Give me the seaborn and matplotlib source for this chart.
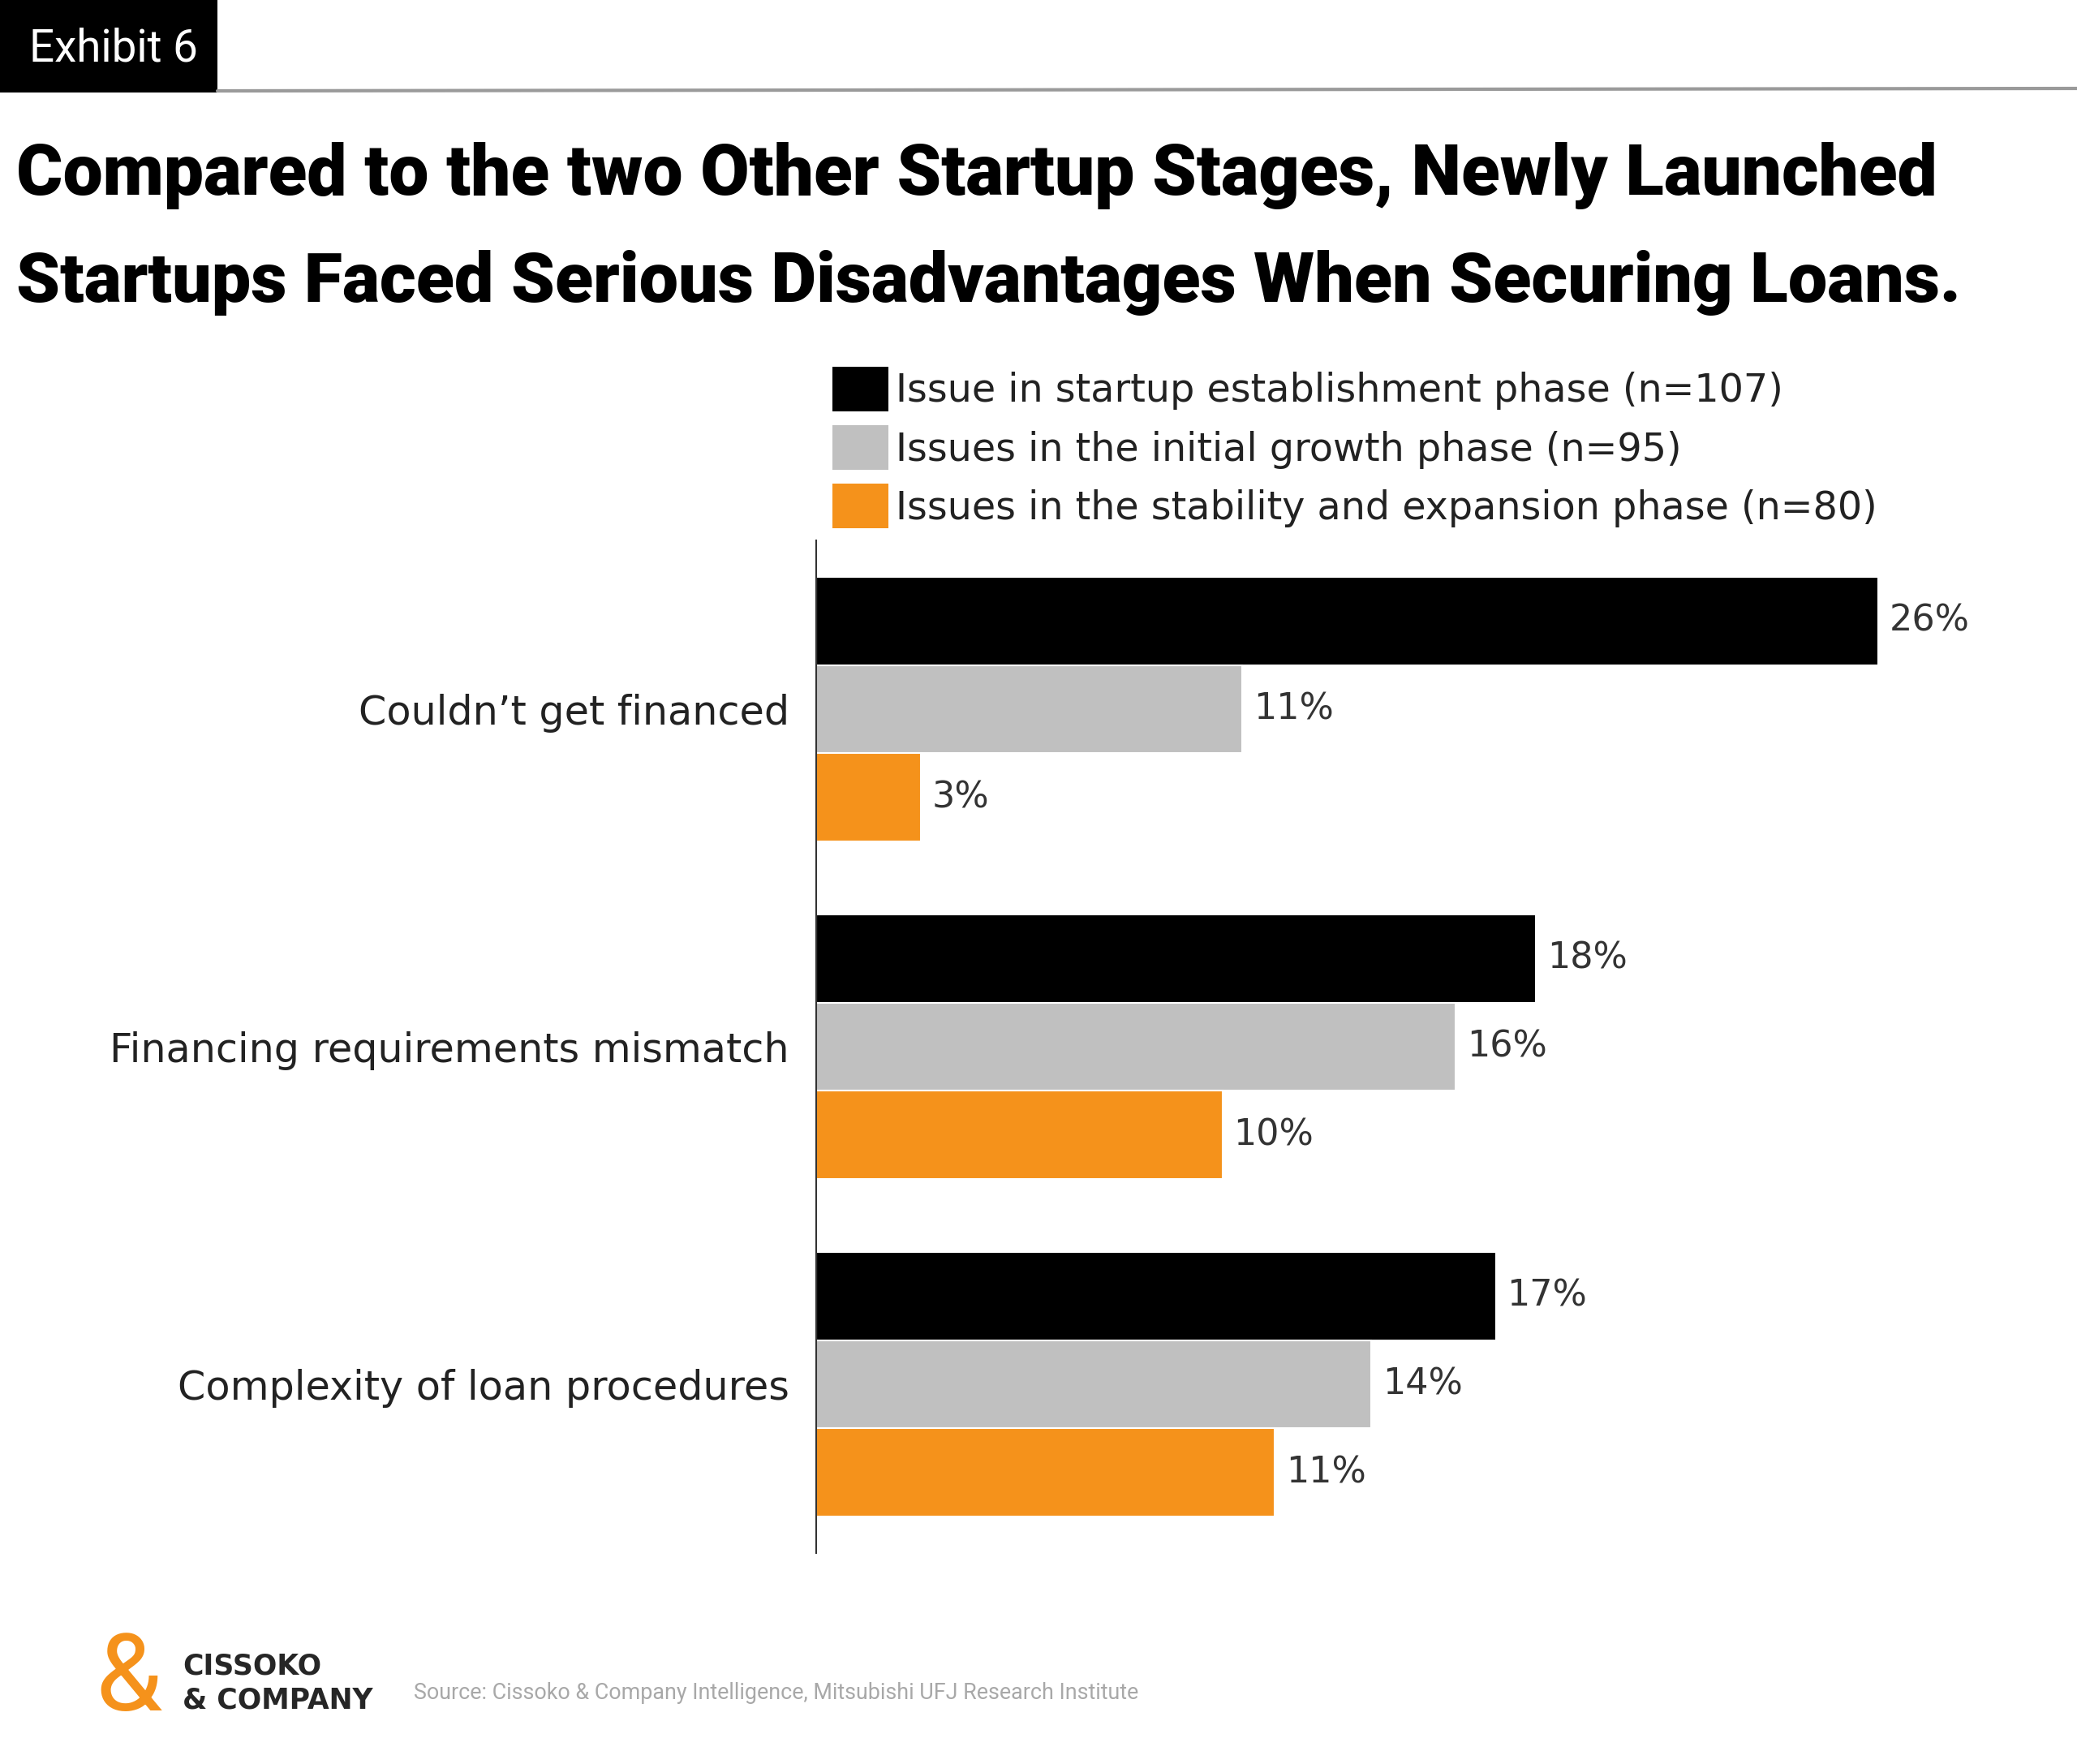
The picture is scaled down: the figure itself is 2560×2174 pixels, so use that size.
import pandas as pd
import numpy as np
import matplotlib
matplotlib.use('Agg')
import matplotlib.pyplot as plt
from matplotlib.patches import Patch, Rectangle
from matplotlib.lines import Line2D
import seaborn as sns

# ---------- Dados ----------
categorias = ['Couldn\u2019t get financed',
              'Financing requirements mismatch',
              'Complexity of loan procedures']
fases = ['Issue in startup establishment phase (n=107)',
         'Issues in the initial growth phase (n=95)',
         'Issues in the stability and expansion phase (n=80)']
val_estabelecimento = [26.4, 17.9, 16.9]
val_crescimento     = [10.6, 15.9, 13.8]
val_estabilidade    = [2.6, 10.1, 11.4]
cores = ['#000000', '#C0C0C0', '#F5921B']

titulo_l1 = 'Compared to the two Other Startup Stages, Newly Launched'
titulo_l2 = 'Startups Faced Serious Disadvantages When Securing Loans.'
fonte_txt = 'Source: Cissoko & Company Intelligence, Mitsubishi UFJ Research Institute'

df = pd.DataFrame({
    'Categoria': categorias * 3,
    'Fase': [fases[0]] * 3 + [fases[1]] * 3 + [fases[2]] * 3,
    'Valor': val_estabelecimento + val_crescimento + val_estabilidade,
})

# ---------- Figura ----------
sns.set_style('white')
plt.rcParams['font.family'] = ['DejaVu Sans']
W, H = 2560, 2174
fig = plt.figure(figsize=(W / 100, H / 100), dpi=100)
renderer = fig.canvas.get_renderer()


def fx(px):
    return px / W


def fy(py):
    return 1 - py / H


def ajustar_largura(t, alvo_px):
    w = t.get_window_extent(renderer=renderer).width
    t.set_fontsize(t.get_fontsize() * alvo_px / w)


# Cabeçalho "Exhibit 6"
fig.patches.append(Rectangle((0, fy(114)), fx(268), 114 / H, transform=fig.transFigure,
                             facecolor='black', edgecolor='none', zorder=1))
fig.lines.append(Line2D([fx(268), 1], [fy(112), fy(109)], transform=fig.transFigure,
                        color='#9a9a9a', linewidth=3))
t = fig.text(fx(36), fy(60), 'Exhibit 6', color='white', fontsize=40, va='center', ha='left',
             family=['Roboto', 'DejaVu Sans'], zorder=2)
ajustar_largura(t, 208)

# Título
for txt, yb, larg in [(titulo_l1, 240, 2373), (titulo_l2, 372, 2400)]:
    t = fig.text(fx(20), fy(yb), txt, fontsize=60, fontweight='black', va='baseline', ha='left',
                 family=['Roboto', 'DejaVu Sans'], color='black')
    ajustar_largura(t, larg)

# ---------- Barras ----------
ax = fig.add_axes([fx(1006), fy(1914), fx(1487), (1914 - 666) / H])
sns.barplot(data=df, y='Categoria', x='Valor', hue='Fase', orient='h', palette=cores,
            width=0.786, saturation=1, edgecolor='white', linewidth=1.5, ax=ax, legend=False)
ax.set_xlim(0, 30)
ax.set_ylim(2.5, -0.5)
for cont in ax.containers:
    ax.bar_label(cont, labels=[f'{v:.0f}%' for v in cont.datavalues], padding=10,
                 fontsize=32, color='#333333')
sns.despine(ax=ax, left=False, bottom=True)
ax.spines['left'].set_color('#333333')
ax.spines['left'].set_linewidth(1.5)
ax.set_xticks([])
ax.set_xlabel('')
ax.set_ylabel('')
ax.tick_params(axis='y', length=0, pad=24, labelsize=35.5, labelcolor='#222222')

# Legenda
handles = [Patch(facecolor=c, edgecolor='none') for c in cores]
fig.legend(handles, fases, loc='upper left', bbox_to_anchor=(fx(1026), fy(452)),
           frameon=False, fontsize=34.3, handlelength=1.44, handleheight=1.4,
           handletextpad=0.2, labelspacing=0.36, borderpad=0, borderaxespad=0,
           labelcolor='#222222')

# ---------- Rodapé ----------
fig.text(fx(158), fy(2072), '&', color='#F5921B', fontsize=95,
         family=['Roboto', 'DejaVu Sans'], ha='center', va='center')
t1 = fig.text(fx(225), fy(2053), 'CISSOKO', fontsize=28, fontweight='bold', va='center', ha='left')
t2 = fig.text(fx(225), fy(2095), '& COMPANY', fontsize=28, fontweight='bold', va='center', ha='left')
ajustar_largura(t2, 235)
t1.set_fontsize(t2.get_fontsize())
t = fig.text(fx(510), fy(2087), fonte_txt, fontsize=20, color='#a8a8a8', va='center', ha='left',
             family=['Roboto', 'DejaVu Sans'])
ajustar_largura(t, 891)

fig.savefig('out.png', dpi=100)
